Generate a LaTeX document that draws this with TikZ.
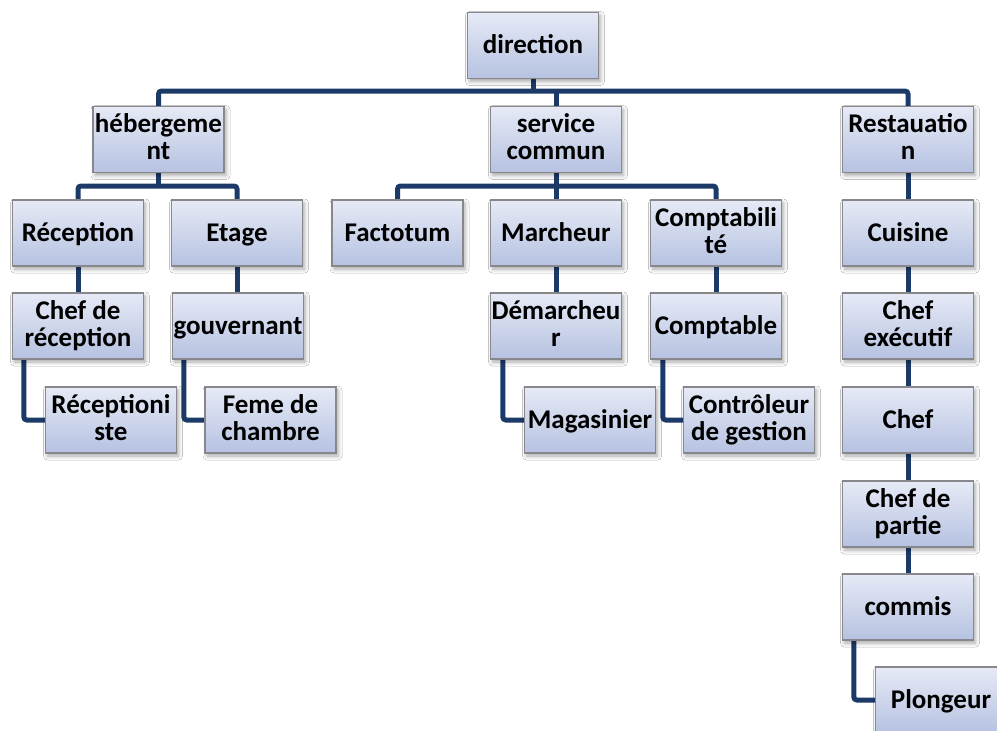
\documentclass[tikz,border=0pt]{standalone}
\usepackage{fontspec}
\setmainfont{Carlito}
\usetikzlibrary{shadows.blur,backgrounds}
\definecolor{boxtop}{RGB}{230,234,246}
\definecolor{boxbot}{RGB}{182,194,225}
\definecolor{boxedge}{RGB}{135,135,140}
\definecolor{linknavy}{RGB}{28,58,104}
% line strut that keeps the glyphs optically centred in their line
\newcommand\linestrut{\rule[-5.3pt]{0pt}{27pt}}
\tikzset{
  unit/.style={draw=boxedge, line width=1.4pt, top color=boxtop, bottom color=boxbot,
    minimum width=131pt, minimum height=66pt, inner sep=1pt, align=center,
    font=\fontsize{27}{27}\selectfont\bfseries, text=black,
    execute at begin node=\linestrut, execute at end node=\linestrut,
    blur shadow={shadow xshift=2pt, shadow yshift=-3pt, shadow blur radius=4pt, shadow opacity=35}},
  link/.style={draw=linknavy, line width=5pt, rounded corners=3pt}
}
\begin{document}
\begin{tikzpicture}[x=1pt,y=-1pt]
\useasboundingbox (0,0) rectangle (997,731);
\clip (0,0) rectangle (997,731);
% top level
\node[unit] (dir) at (533,45.5) {direction};
% departments
\node[unit] (heb) at (158.5,139.5) {hébergeme\\nt};
\node[unit] (svc) at (556,139.5) {service\\commun};
\node[unit] (rest) at (908,139.5) {Restauatio\\n};
% services
\node[unit] (recp) at (78,233) {Réception};
\node[unit] (etage) at (237,233) {Etage};
\node[unit] (fact) at (397.5,233) {Factotum};
\node[unit] (march) at (556,233) {Marcheur};
\node[unit] (compta) at (716,233) {Comptabili\\té};
\node[unit] (cuis) at (908,233) {Cuisine};
% third row
\node[unit] (chefrec) at (78,326) {Chef de\\réception};
\node[unit] (gouv) at (238,326) {gouvernant};
\node[unit] (demar) at (556,326) {Démarcheu\\r};
\node[unit] (comptable) at (716,326) {Comptable};
\node[unit] (chefexe) at (908,326) {Chef\\exécutif};
% fourth row
\node[unit] (recept) at (111,420) {Réceptioni\\ste};
\node[unit] (feme) at (270.5,420) {Feme de\\chambre};
\node[unit] (mag) at (590,420) {Magasinier};
\node[unit] (ctrl) at (749,420) {Contrôleur\\de gestion};
\node[unit] (chef) at (908,420) {Chef};
% kitchen line
\node[unit] (partie) at (908,514) {Chef de\\partie};
\node[unit] (commis) at (908,607) {commis};
\node[unit] (plong) at (941,700) {Plongeur};

\begin{scope}[on background layer]
\fill[white] (0,0) rectangle (997,731);
\coordinate (bar0) at (0,91);
\coordinate (bar1) at (0,186);
% direction to departments
\draw[link] (heb.north) -- (heb.north |- bar0) -- (rest.north |- bar0) -- (rest.north);
\draw[link] (dir.south) -- (dir.south |- bar0);
\draw[link] (svc.north) -- (svc.north |- bar0);
% hébergement
\draw[link] (recp.north) -- (recp.north |- bar1) -- (etage.north |- bar1) -- (etage.north);
\draw[link] (heb.south) -- (heb.south |- bar1);
% service commun
\draw[link] (fact.north) -- (fact.north |- bar1) -- (compta.north |- bar1) -- (compta.north);
\draw[link] (svc.south) -- (march.north);
% restauration
\draw[link] (rest.south) -- (cuis.north);
% vertical chains
\draw[link] (recp.south) -- (chefrec.north);
\draw[link] (etage.south) -- (etage.south |- gouv.north);
\draw[link] (march.south) -- (demar.north);
\draw[link] (compta.south) -- (comptable.north);
\draw[link] (cuis.south) -- (chefexe.north);
\draw[link] (chefexe.south) -- (chef.north);
\draw[link] (chef.south) -- (partie.north);
\draw[link] (partie.south) -- (commis.north);
% side branches
\draw[link] ([xshift=12pt]chefrec.south west) |- (recept.west);
\draw[link] ([xshift=12pt]gouv.south west) |- (feme.west);
\draw[link] ([xshift=13pt]demar.south west) |- (mag.west);
\draw[link] ([xshift=13pt]comptable.south west) |- (ctrl.west);
\draw[link] ([xshift=12pt]commis.south west) |- (plong.west);
\end{scope}
\end{tikzpicture}
\end{document}
